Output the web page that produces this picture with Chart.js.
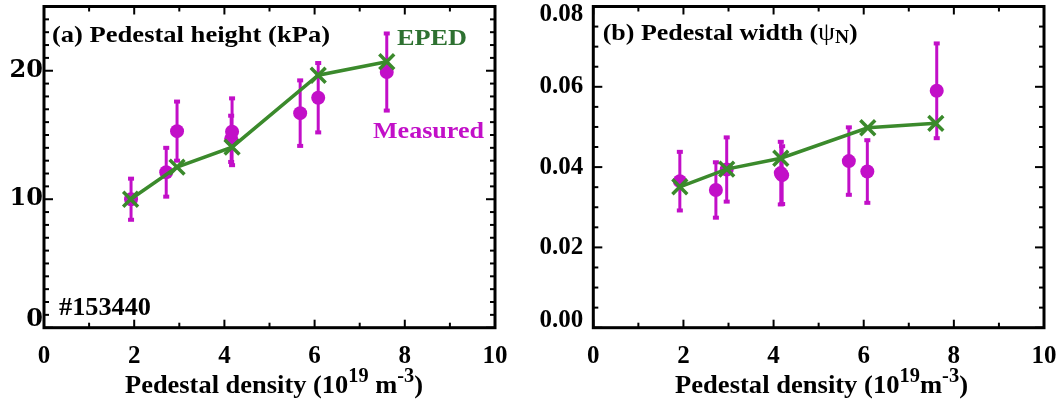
<!DOCTYPE html>
<html>
<head>
<meta charset="utf-8">
<script src="https://cdn.jsdelivr.net/npm/chart.js@4.4.0/dist/chart.umd.min.js"></script>
<style>
html, body { margin:0; padding:0; background:#fff; }
#wrap { display:flex; width:1062px; height:406px; }
.panel { width:531px; height:406px; }
canvas { display:block; }
</style>
</head>
<body>
<div id="wrap">
  <div class="panel"><canvas id="chartHeight" width="531" height="406"></canvas></div>
  <div class="panel"><canvas id="chartWidth" width="531" height="406"></canvas></div>
</div>
<script>
// ---------- DATA ----------
// (a) pedestal height, kPa
const HEIGHT_MEAS_X   = [1.93, 2.71, 2.95, 4.15, 4.17, 5.68, 6.08, 7.60];
const HEIGHT_MEAS_Y   = [10.0, 12.1, 15.3, 14.7, 15.25, 16.7, 17.9, 19.9];
const HEIGHT_MEAS_ERR = [1.6, 1.9, 2.3, 1.8, 2.6, 2.55, 2.7, 3.0];
const HEIGHT_EPED_X   = [1.92, 2.95, 4.17, 6.08, 7.60];
const HEIGHT_EPED_Y   = [10.0, 12.5, 14.05, 19.65, 20.7];

// (b) pedestal width, psi_N
const WIDTH_MEAS_X   = [1.92, 2.72, 2.96, 4.16, 4.19, 5.67, 6.08, 7.62];
const WIDTH_MEAS_Y   = [0.0365, 0.0343, 0.0394, 0.0385, 0.0380, 0.0415, 0.0389, 0.0590];
const WIDTH_MEAS_ERR = [0.0073, 0.0069, 0.0080, 0.0078, 0.0072, 0.0084, 0.0078, 0.0118];
const WIDTH_EPED_X   = [1.92, 2.96, 4.16, 6.09, 7.60];
const WIDTH_EPED_Y   = [0.0351, 0.0395, 0.0422, 0.0498, 0.0509];

// axis ranges / tick spacing
const X_RANGE = [0, 10], X_MAJOR = 2, X_MINOR = 1;
const HEIGHT_Y_RANGE = [0, 25], HEIGHT_Y_MAJOR = 10, HEIGHT_Y_MINOR = 1;
const WIDTH_Y_RANGE = [0, 0.08], WIDTH_Y_MAJOR = 0.02, WIDTH_Y_MINOR = 0.005;

const MAGENTA = '#c20fc8';
const GREEN = '#3b8a2c';
const GREEN_TEXT = '#2e7131';
const SERIF = '"Liberation Serif", "Times New Roman", serif';

// ---------- PLUGINS ----------
// vertical error bars with small square caps, drawn under the datasets
const errorBarPlugin = {
  id: 'errorBars',
  beforeDatasetsDraw(chart) {
    const { ctx, scales: { x, y } } = chart;
    chart.data.datasets.forEach(ds => {
      if (!ds.errors) return;
      ctx.save();
      ctx.strokeStyle = ds.backgroundColor;
      ctx.fillStyle = ds.backgroundColor;
      ctx.lineWidth = 3;
      ds.data.forEach((p, i) => {
        const px = x.getPixelForValue(p.x);
        const top = y.getPixelForValue(p.y + ds.errors[i]);
        const bot = y.getPixelForValue(p.y - ds.errors[i]);
        ctx.beginPath();
        ctx.moveTo(px, top);
        ctx.lineTo(px, bot);
        ctx.stroke();
        ctx.fillRect(px - 3, top - 2, 6, 4);
        ctx.fillRect(px - 3, bot - 2, 6, 4);
      });
      ctx.restore();
    });
  }
};

// box frame with inward ticks on all four sides, plus the y tick labels
// (end labels are pulled inside the box like in the original plot)
function tickValues(range, step) {
  const n = Math.round((range[1] - range[0]) / step);
  const out = [];
  for (let i = 0; i <= n; i++) out.push(range[0] + i * step);
  return out;
}
function makeFramePlugin(cfg) {
  return {
    id: 'frame',
    afterDraw(chart) {
      const { ctx, chartArea: a, scales: { x, y } } = chart;
      ctx.save();
      ctx.strokeStyle = '#000';
      ctx.lineWidth = 2;
      const seg = (x1, y1, x2, y2) => { ctx.beginPath(); ctx.moveTo(x1, y1); ctx.lineTo(x2, y2); ctx.stroke(); };
      tickValues(X_RANGE, X_MINOR).forEach(v => {
        const px = x.getPixelForValue(v);
        const major = Math.abs(v / X_MAJOR - Math.round(v / X_MAJOR)) < 1e-6;
        const len = major ? 8 : 5;
        seg(px, a.bottom, px, a.bottom - len);
        seg(px, a.top, px, a.top + len);
      });
      tickValues(cfg.yRange, cfg.yMinor).forEach(v => {
        const py = y.getPixelForValue(v);
        const major = Math.abs(v / cfg.yMajor - Math.round(v / cfg.yMajor)) < 1e-6;
        const len = major ? 9 : 5;
        seg(a.left, py, a.left + len, py);
        seg(a.right, py, a.right - len, py);
      });
      ctx.lineWidth = 3;
      ctx.strokeRect(a.left, a.top, a.right - a.left, a.bottom - a.top);

      // y tick labels
      const f = cfg.yFont;
      ctx.font = `${f.weight} ${f.size}px ${f.family}`;
      ctx.fillStyle = '#000';
      ctx.textAlign = 'right';
      ctx.textBaseline = 'middle';
      const half = cfg.yLabelH / 2;
      y.ticks.forEach(t => {
        let py = y.getPixelForValue(t.value);
        py = Math.min(py, a.bottom - half + 0.5);
        py = Math.max(py, a.top + half);
        ctx.fillText(cfg.yFmt(t.value), a.left - cfg.yPad, py);
      });
      ctx.restore();
    }
  };
}

// free text, with super/subscripts; squeezed/stretched to a given width
function makeTextPlugin(items) {
  return {
    id: 'texts',
    afterDraw(chart) {
      const ctx = chart.ctx;
      items.forEach(it => {
        ctx.save();
        const fontOf = s => `${s.weight || 'bold'} ${s.size}px ${SERIF}`;
        const widths = it.segs.map(s => { ctx.font = fontOf(s); return ctx.measureText(s.t).width; });
        const nat = widths.reduce((a, b) => a + b, 0);
        const k = it.w ? it.w / nat : 1;
        ctx.translate(it.x, it.y);
        ctx.scale(k, 1);
        ctx.fillStyle = it.color || '#000';
        ctx.textAlign = 'left';
        ctx.textBaseline = 'alphabetic';
        let cx = 0;
        it.segs.forEach((s, i) => {
          ctx.font = fontOf(s);
          ctx.fillText(s.t, cx, s.dy || 0);
          cx += widths[i];
        });
        ctx.restore();
      });
    }
  };
}

// ---------- CHARTS ----------
function buildChart(id, cfg) {
  const eped = cfg.epedX.map((v, i) => ({ x: v, y: cfg.epedY[i] }));
  const meas = cfg.measX.map((v, i) => ({ x: v, y: cfg.measY[i] }));
  return new Chart(document.getElementById(id), {
    type: 'scatter',
    data: {
      datasets: [
        { label: 'EPED', data: eped, showLine: true, borderColor: GREEN, backgroundColor: GREEN,
          borderWidth: 3.5, pointStyle: 'crossRot', pointRadius: 10.5, pointBorderWidth: 3.5,
          pointBorderColor: GREEN, order: 0 },
        { label: 'Measured', data: meas, errors: cfg.measErr, backgroundColor: MAGENTA,
          pointStyle: 'circle', pointRadius: 7, borderWidth: 0, order: 1 }
      ]
    },
    options: {
      responsive: false,
      animation: false,
      layout: {
        autoPadding: false,
        padding: { left: 0, top: cfg.area.top, right: 531 - cfg.area.right, bottom: 0 }
      },
      plugins: { legend: { display: false }, tooltip: { enabled: false } },
      scales: {
        x: {
          type: 'linear', min: X_RANGE[0], max: X_RANGE[1],
          ticks: { stepSize: X_MAJOR, color: '#000', padding: 14,
                   font: { family: SERIF, weight: 'bold', size: 25 } },
          grid: { display: false, drawTicks: false },
          border: { display: false },
          afterFit(s) { s.height = 406 - cfg.area.bottom; s.paddingLeft = 0; s.paddingRight = 0; }
        },
        y: {
          type: 'linear', min: cfg.yRange[0], max: cfg.yRange[1],
          ticks: { stepSize: cfg.yMajor, includeBounds: false, display: false },
          grid: { display: false, drawTicks: false },
          border: { display: false },
          afterFit(s) { s.width = cfg.area.left; s.paddingTop = 0; s.paddingBottom = 0; }
        }
      }
    },
    plugins: [errorBarPlugin, makeFramePlugin(cfg), makeTextPlugin(cfg.texts)]
  });
}

buildChart('chartHeight', {
  measX: HEIGHT_MEAS_X, measY: HEIGHT_MEAS_Y, measErr: HEIGHT_MEAS_ERR,
  epedX: HEIGHT_EPED_X, epedY: HEIGHT_EPED_Y,
  yRange: HEIGHT_Y_RANGE, yMajor: HEIGHT_Y_MAJOR, yMinor: HEIGHT_Y_MINOR,
  area: { left: 44, right: 495, top: 6.5, bottom: 327.7 },
  yPad: 1, yLabelH: 17,
  yFont: { family: '"DejaVu Serif", serif', weight: 'bold', size: 24 },
  yFmt: v => String(v),
  texts: [
    { x: 52, y: 42, w: 278, segs: [{ t: '(a) Pedestal height (kPa)', size: 24 }] },
    { x: 397, y: 45, w: 70, color: GREEN_TEXT, segs: [{ t: 'EPED', size: 24 }] },
    { x: 373, y: 138, w: 111, color: MAGENTA, segs: [{ t: 'Measured', size: 24 }] },
    { x: 59, y: 315, w: 92, segs: [{ t: '#153440', size: 25 }] },
    { x: 125, y: 393, w: 298, segs: [
      { t: 'Pedestal density (10', size: 26 },
      { t: '19', size: 20, dy: -11 },
      { t: ' m', size: 26 },
      { t: '-3', size: 20, dy: -11 },
      { t: ')', size: 26 }] }
  ]
});

buildChart('chartWidth', {
  measX: WIDTH_MEAS_X, measY: WIDTH_MEAS_Y, measErr: WIDTH_MEAS_ERR,
  epedX: WIDTH_EPED_X, epedY: WIDTH_EPED_Y,
  yRange: WIDTH_Y_RANGE, yMajor: WIDTH_Y_MAJOR, yMinor: WIDTH_Y_MINOR,
  area: { left: 62.3, right: 513, top: 6.5, bottom: 327.7 },
  yPad: 10, yLabelH: 16,
  yFont: { family: SERIF, weight: 'bold', size: 25 },
  yFmt: v => v.toFixed(2),
  texts: [
    { x: 71.7, y: 40, w: 255, segs: [
      { t: '(b) Pedestal width (', size: 24 },
      { t: 'ψ', size: 25, weight: 'normal' },
      { t: 'N', size: 18, dy: 3 },
      { t: ')', size: 24 }] },
    { x: 144, y: 393, w: 293, segs: [
      { t: 'Pedestal density (10', size: 26 },
      { t: '19', size: 20, dy: -11 },
      { t: 'm', size: 26 },
      { t: '-3', size: 20, dy: -11 },
      { t: ')', size: 26 }] }
  ]
});
</script>
</body>
</html>
